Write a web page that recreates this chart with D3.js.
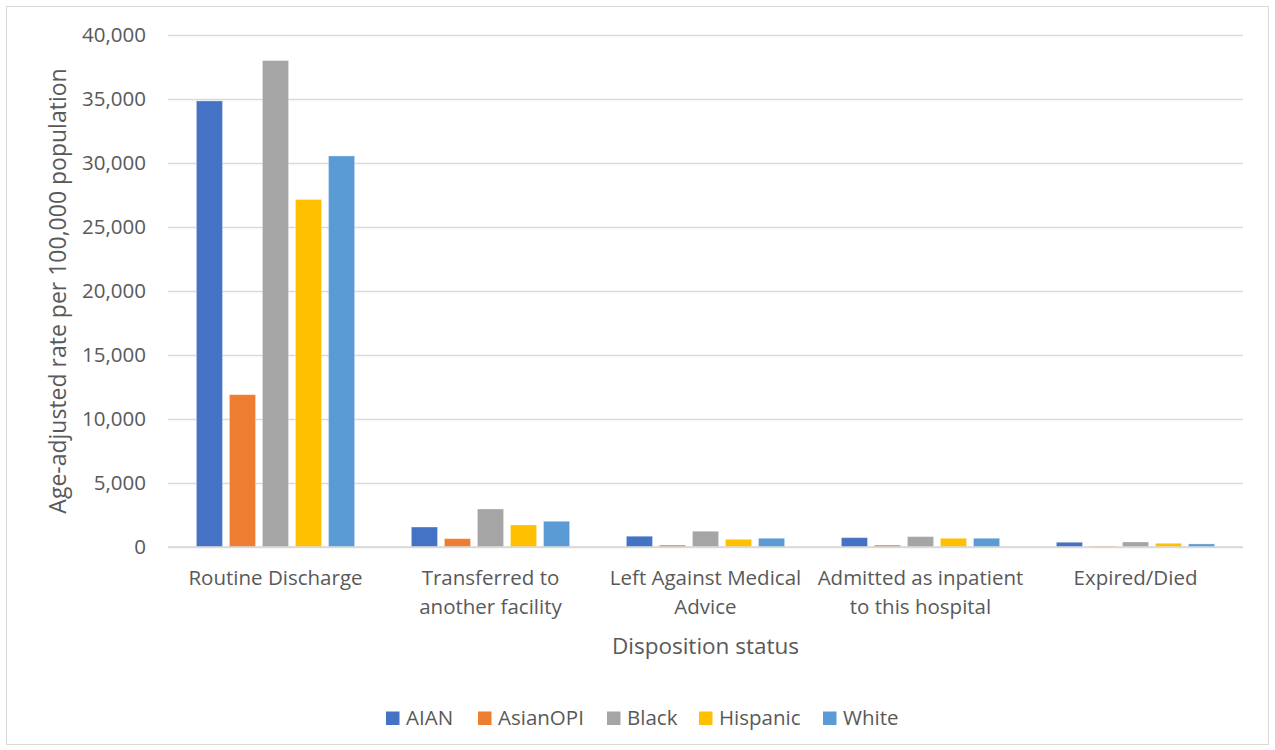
<!DOCTYPE html>
<html><head><meta charset="utf-8">
<script src="https://cdn.jsdelivr.net/npm/d3@7"></script>
<style>body{margin:0;background:#fff}svg{display:block;font-family:"Open Sans",sans-serif}</style>
</head><body><svg id="c" width="1275" height="750"></svg>
<script>
const categories = [["Routine Discharge"],["Transferred to","another facility"],["Left Against Medical","Advice"],["Admitted as inpatient","to this hospital"],["Expired/Died"]];
const seriesNames = ["AIAN","AsianOPI","Black","Hispanic","White"];
const colors = ["#4472c4","#ed7d31","#a5a5a5","#ffc000","#5b9bd5"];
const AIAN     = [34850, 1560, 840, 730, 370];
const AsianOPI = [11900,  650, 150, 150,  70];
const Black    = [38000, 2970,1230, 810, 390];
const Hispanic = [27150, 1720, 600, 680, 290];
const White    = [30550, 2010, 680, 680, 240];
const yTicks = [0,5000,10000,15000,20000,25000,30000,35000,40000];
const series = [AIAN,AsianOPI,Black,Hispanic,White];

const svg = d3.select("#c");
svg.append("rect").attr("x",6.5).attr("y",6.5).attr("width",1262).attr("height",738).attr("fill","#fff").attr("stroke","#d9d9d9");
const L=168,R=1243,T=35,B=547;
const x0 = d3.scaleBand().domain(categories.map((d,i)=>i)).range([L,R]).padding(0);
const x1 = d3.scaleBand().domain(seriesNames).range([0,x0.bandwidth()]).paddingInner(0.21).paddingOuter(0.86);
const y = d3.scaleLinear().domain([0,40000]).range([B,T]);

const fmt = d3.format(",");
const ya = svg.append("g").attr("transform",`translate(${L},0)`).call(d3.axisLeft(y).tickValues(yTicks).tickFormat(fmt).tickSize(-(R-L)).tickPadding(22));
ya.select(".domain").remove();
ya.selectAll(".tick line").attr("stroke","#d9d9d9").attr("stroke-width",1.3);
ya.selectAll(".tick text").attr("fill","#595959").style("font-size","20.5px").style("font-family","'Open Sans',sans-serif");

const g = svg.append("g");
categories.forEach((c,i)=>{
  seriesNames.forEach((s,j)=>{
    const v = series[j][i];
    g.append("rect").attr("x",x0(i)+x1(s)).attr("y",y(v)).attr("width",x1.bandwidth()).attr("height",y(0)-y(v))
      .attr("fill",colors[j]).attr("stroke","#fff").attr("stroke-opacity",0.3).attr("stroke-width",1);
  });
});
svg.append("line").attr("x1",L).attr("x2",R).attr("y1",B).attr("y2",B).attr("stroke","#d9d9d9").attr("stroke-width",1.5);

const xa = svg.append("g");
categories.forEach((c,i)=>{
  const t = xa.append("text").attr("x",x0(i)+x0.bandwidth()/2).attr("y",585).attr("text-anchor","middle")
    .attr("fill","#595959").style("font-size","20.5px");
  c.forEach((line,k)=>t.append("tspan").attr("x",x0(i)+x0.bandwidth()/2).attr("dy",k?29:0).text(line));
});
svg.append("text").attr("x",(L+R)/2).attr("y",654).attr("text-anchor","middle").attr("fill","#595959").style("font-size","22.5px").text("Disposition status");
svg.append("text").attr("transform",`translate(66,${(T+B)/2}) rotate(-90)`).attr("text-anchor","middle").attr("fill","#595959").style("font-size","23px").text("Age-adjusted rate per 100,000 population");

const legX=[386,478,607,699,823];
const lg = svg.append("g");
seriesNames.forEach((s,j)=>{
  lg.append("rect").attr("x",legX[j]).attr("y",711.5).attr("width",13.5).attr("height",13.5).attr("fill",colors[j]);
  lg.append("text").attr("x",legX[j]+20).attr("y",725).attr("fill","#595959").style("font-size","20.5px").text(s);
});
</script></body></html>
